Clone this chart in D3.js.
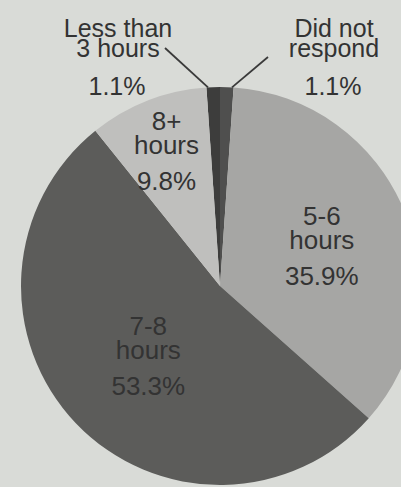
<!DOCTYPE html>
<html>
<head>
<meta charset="utf-8">
<script src="https://cdn.jsdelivr.net/npm/d3@7"></script>
<style>
  html, body { margin: 0; padding: 0; background: #d9dbd7; }
  svg { display: block; }
  text { font-family: "Liberation Sans", Arial, sans-serif; fill: #333; }
</style>
</head>
<body>
<svg id="chart" width="401" height="487"></svg>
<script>
// values (they sum to 101.2, the pie normalises them)
const categories = ["Less than 3 hours", "Did not respond", "5-6 hours", "7-8 hours", "8+ hours"];
const percents = [1.1, 1.1, 35.9, 53.3, 9.8];
const labelLines = [["Less than", "3 hours"], ["Did not", "respond"], ["5-6", "hours"], ["7-8", "hours"], ["8+", "hours"]];
const percentLabels = ["1.1%", "1.1%", "35.9%", "53.3%", "9.8%"];

const width = 401, height = 487;
const cx = 220, cy = 286, radius = 199;

const fills = {
    "Less than 3 hours": "#3d3d3c",
    "Did not respond": "#4f4f4e",
    "5-6 hours": "#a6a6a4",
    "7-8 hours": "#5c5c5a",
    "8+ hours": "#bfbfbd"
};

// inner labels sit on the slice bisector at these radii
const labelRadius = { "5-6 hours": 110, "7-8 hours": 99, "8+ hours": 147 };

const data = categories.map((c, i) => ({ name: c, value: percents[i], lines: labelLines[i], pct: percentLabels[i] }));
const total = d3.sum(percents);

// the two thin slices straddle 12 o'clock
const start = -2 * Math.PI * percents[0] / total;
const pie = d3.pie().sort(null).value(d => d.value).startAngle(start).endAngle(start + 2 * Math.PI);
const arc = d3.arc().innerRadius(0).outerRadius(radius);

const svg = d3.select("#chart");
const g = svg.append("g").attr("transform", `translate(${cx},${cy})`);
const arcs = pie(data);

g.selectAll("path.slice")
  .data(arcs)
  .join("path")
    .attr("class", "slice")
    .attr("d", arc)
    .attr("fill", d => fills[d.data.name]);

// labels inside the big slices
const inner = arcs.filter(d => labelRadius[d.data.name]);
inner.forEach(d => {
    const a = (d.startAngle + d.endAngle) / 2;
    const r = labelRadius[d.data.name];
    const x = r * Math.sin(a), y = -r * Math.cos(a);
    const t = g.append("text")
        .attr("text-anchor", "middle")
        .attr("font-size", 26)
        .attr("fill", d.data.name === "7-8 hours" ? "#2e2e2d" : "#3a3a39");
    // block is about 77px tall from first cap top to last baseline
    const top = y - 38 + 19;
    t.append("tspan").attr("x", x).attr("y", top).text(d.data.lines[0]);
    t.append("tspan").attr("x", x).attr("y", top + 24).text(d.data.lines[1]);
    t.append("tspan").attr("x", x).attr("y", top + 60).text(d.data.pct);
});

// outside labels for the two thin slices, with leader lines
const outside = [
    { d: arcs[0], x: 118, lineFrom: [165, 48], edge: arcs[0].startAngle + 0.008 },
    { d: arcs[1], x: 334, lineFrom: [268, 57], edge: arcs[1].endAngle - 0.008 }
];
outside.forEach(o => {
    const t = svg.append("text")
        .attr("text-anchor", "middle")
        .attr("font-size", 25);
    t.append("tspan").attr("x", o.x).attr("y", 37).text(o.d.data.lines[0]);
    t.append("tspan").attr("x", o.x).attr("y", 57).text(o.d.data.lines[1]);
    svg.append("text")
        .attr("text-anchor", "middle")
        .attr("font-size", 25)
        .attr("x", o.x - 1)
        .attr("y", 95)
        .text(o.d.data.pct);
    svg.append("line")
        .attr("x1", o.lineFrom[0]).attr("y1", o.lineFrom[1])
        .attr("x2", cx + radius * Math.sin(o.edge))
        .attr("y2", cy - radius * Math.cos(o.edge))
        .attr("stroke", "#3a3a3a")
        .attr("stroke-width", 1.8);
});
</script>
</body>
</html>
